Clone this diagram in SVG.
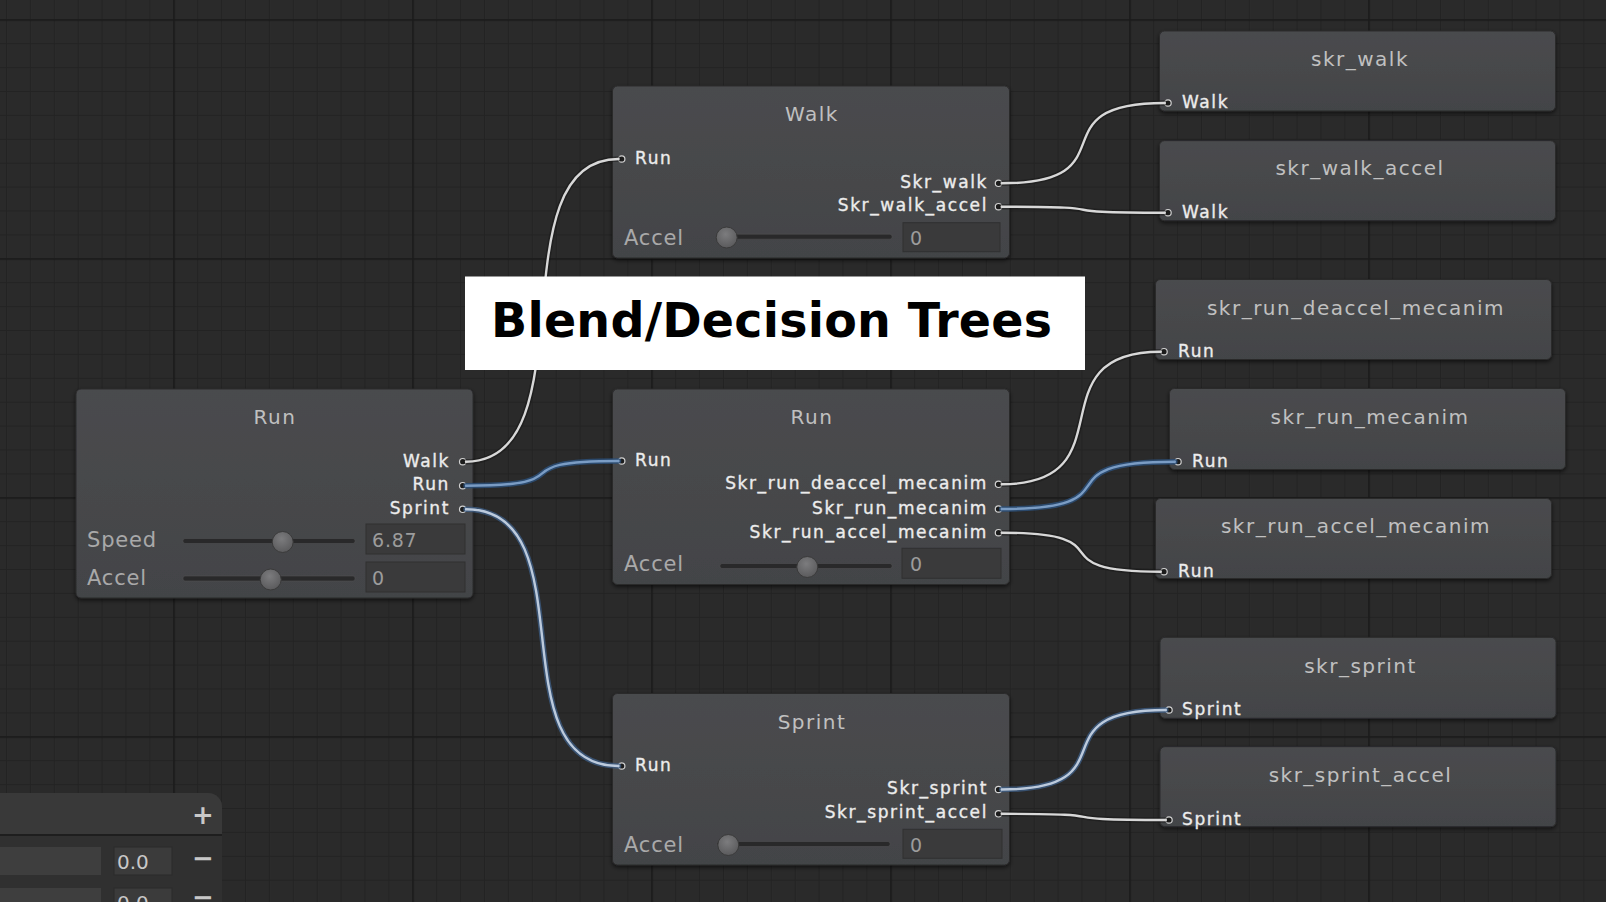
<svg xmlns="http://www.w3.org/2000/svg" width="1606" height="902" viewBox="0 0 1606 902">
<defs>
  <pattern id="gMinor" width="23.9" height="23.9" patternUnits="userSpaceOnUse" x="6" y="19.3">
    <path d="M0,0.5 H23.9 M0.5,0 V23.9" stroke="#232323" stroke-width="1" fill="none"/>
  </pattern>
  <pattern id="gMajor" width="239" height="239" patternUnits="userSpaceOnUse" x="173.3" y="19.3">
    <path d="M0,0.75 H239 M0.75,0 V239" stroke="#1a1a1a" stroke-width="1.5" fill="none"/>
  </pattern>
  <linearGradient id="nodeFill" x1="0" y1="0" x2="0" y2="1">
    <stop offset="0" stop-color="#4a4b4e"/>
    <stop offset="1" stop-color="#434447"/>
  </linearGradient>
  <radialGradient id="knobFill" cx="0.45" cy="0.35" r="0.7">
    <stop offset="0" stop-color="#7c7c7e"/>
    <stop offset="1" stop-color="#58585a"/>
  </radialGradient>
  <filter id="shadow" x="-5%" y="-10%" width="110%" height="125%">
    <feDropShadow dx="0" dy="2" stdDeviation="2" flood-color="#000" flood-opacity="0.6"/>
  </filter>
  <style>
    .node{fill:url(#nodeFill);stroke:#2b2b2c;stroke-width:1;filter:url(#shadow)}
    .title{font-family:"DejaVu Sans",sans-serif;font-size:20px;letter-spacing:1.5px;fill:#c0c0c0;text-anchor:middle}
    .port{font-family:"DejaVu Sans",sans-serif;font-size:17px;letter-spacing:1.6px;fill:#ececec;stroke:#ececec;stroke-width:0.35px}
    .out{text-anchor:end}
    .pin{fill:#1c1c1c;stroke:#d2d2d2;stroke-width:1.2}
    .lbl{font-family:"DejaVu Sans",sans-serif;font-size:21px;letter-spacing:0.8px;fill:#a9a9a9}
    .val{font-family:"DejaVu Sans",sans-serif;font-size:19px;letter-spacing:0.8px;fill:#9c9c9c}
    .field{fill:#3a3a3b;stroke:#303031;stroke-width:1}
    .track{fill:#29292a;stroke:#505052;stroke-width:0.6}
    .knob{fill:url(#knobFill);stroke:#3a3a3a;stroke-width:1}
    .halo{fill:none;stroke-width:5.5;stroke-linecap:round}
    .core{fill:none;stroke-width:2.4;stroke-linecap:round}
    .white .halo{stroke:#151515;stroke-opacity:0.5}
    .white .core{stroke:#d8d8d8}
    .blue .halo{stroke:#2c4f78;stroke-opacity:0.85}
    .blue .core{stroke:#7a9cc4}
    .pale .halo{stroke:#3d5f88;stroke-opacity:0.75}
    .pale .core{stroke:#bccadc}
    .pnl{font-family:"DejaVu Sans",sans-serif;fill:#c8c8c8}
  </style>
</defs>

<!-- background grid -->
<rect x="0" y="0" width="1606" height="902" fill="#2a2a2a"/>
<rect x="0" y="0" width="1606" height="902" fill="url(#gMinor)"/>
<rect x="0" y="0" width="1606" height="902" fill="url(#gMajor)"/>

<!-- bottom-left panel -->
<g id="panel">
  <path d="M0,793 H208 A14,14 0 0 1 222,807 V902 H0 Z" fill="#303030"/>
  <path d="M0,793 H208 A14,14 0 0 1 222,807 V835 H0 Z" fill="#393939"/>
  <rect x="0" y="834" width="222" height="2" fill="#1e1e1e"/>
  <rect x="0" y="847" width="101" height="28" fill="#3e3e3e"/>
  <rect x="114" y="847" width="58" height="28" fill="#3b3b3b" stroke="#2b2b2b"/>
  <text class="pnl" x="117" y="869" font-size="20">0.0</text>
  <rect x="0" y="888" width="101" height="28" fill="#3e3e3e"/>
  <rect x="114" y="888" width="58" height="28" fill="#3b3b3b" stroke="#2b2b2b"/>
  <text class="pnl" x="117" y="910" font-size="20">0.0</text>
  <text class="pnl" x="203" y="824" font-size="26" font-weight="bold" text-anchor="middle">+</text>
  <text class="pnl" x="203" y="867" font-size="26" font-weight="bold" text-anchor="middle">−</text>
  <text class="pnl" x="203" y="906" font-size="26" font-weight="bold" text-anchor="middle">−</text>
</g>

<!-- nodes -->
<g id="node-run-root">
  <rect class="node" x="76" y="389" width="397" height="209" rx="5"/>
  <text class="title" x="275" y="424">Run</text>
  <text class="port out" x="450" y="466.5">Walk</text>
  <text class="port out" x="450" y="490">Run</text>
  <text class="port out" x="450" y="513.5">Sprint</text>
  <circle class="pin" cx="462.7" cy="461.7" r="3.2"/>
  <circle class="pin" cx="462.7" cy="485.7" r="3.2"/>
  <circle class="pin" cx="462.7" cy="509.3" r="3.2"/>
  <text class="lbl" x="87" y="547">Speed</text>
  <rect class="track" x="183" y="538.5" width="172" height="5" rx="2"/>
  <circle class="knob" cx="282.7" cy="542" r="10.5"/>
  <rect class="field" x="366" y="524" width="99" height="30"/>
  <text class="val" x="372" y="547">6.87</text>
  <text class="lbl" x="87" y="584.5">Accel</text>
  <rect class="track" x="183" y="576" width="172" height="5" rx="2"/>
  <circle class="knob" cx="270.7" cy="579.5" r="10.5"/>
  <rect class="field" x="366" y="562" width="99" height="30"/>
  <text class="val" x="372" y="584.5">0</text>
</g>

<g id="node-walk">
  <rect class="node" x="612.5" y="86" width="397" height="172" rx="5"/>
  <text class="title" x="812" y="121">Walk</text>
  <circle class="pin" cx="621.7" cy="159" r="3.2"/>
  <text class="port" x="635" y="164">Run</text>
  <text class="port out" x="988" y="187.8">Skr_walk</text>
  <text class="port out" x="988" y="211">Skr_walk_accel</text>
  <circle class="pin" cx="998.5" cy="183.3" r="3.2"/>
  <circle class="pin" cx="998.5" cy="206.7" r="3.2"/>
  <text class="lbl" x="624" y="245">Accel</text>
  <rect class="track" x="723" y="234.2" width="169" height="5" rx="2"/>
  <circle class="knob" cx="726.7" cy="237.5" r="10.5"/>
  <rect class="field" x="903" y="222.7" width="97" height="29"/>
  <text class="val" x="910" y="245">0</text>
</g>

<g id="node-run">
  <rect class="node" x="612.5" y="389" width="397" height="195.5" rx="5"/>
  <text class="title" x="812" y="423.5">Run</text>
  <circle class="pin" cx="621.7" cy="461" r="3.2"/>
  <text class="port" x="635" y="466">Run</text>
  <text class="port out" x="988" y="489.3">Skr_run_deaccel_mecanim</text>
  <text class="port out" x="988" y="513.5">Skr_run_mecanim</text>
  <text class="port out" x="988" y="537.5">Skr_run_accel_mecanim</text>
  <circle class="pin" cx="998.5" cy="484.3" r="3.2"/>
  <circle class="pin" cx="998.5" cy="509" r="3.2"/>
  <circle class="pin" cx="998.5" cy="532.7" r="3.2"/>
  <text class="lbl" x="624" y="570.7">Accel</text>
  <rect class="track" x="720" y="563.5" width="172" height="5" rx="2"/>
  <circle class="knob" cx="807.3" cy="567" r="10.5"/>
  <rect class="field" x="902" y="548.3" width="99" height="30"/>
  <text class="val" x="910" y="571">0</text>
</g>

<g id="node-sprint">
  <rect class="node" x="612.5" y="693.5" width="397" height="171.5" rx="5"/>
  <text class="title" x="812" y="728.5">Sprint</text>
  <circle class="pin" cx="621.7" cy="766" r="3.2"/>
  <text class="port" x="635" y="771">Run</text>
  <text class="port out" x="988" y="794.3">Skr_sprint</text>
  <text class="port out" x="988" y="818.3">Skr_sprint_accel</text>
  <circle class="pin" cx="998.5" cy="789.5" r="3.2"/>
  <circle class="pin" cx="998.5" cy="813.8" r="3.2"/>
  <text class="lbl" x="624" y="851.7">Accel</text>
  <rect class="track" x="717" y="841.5" width="173" height="5" rx="2"/>
  <circle class="knob" cx="728.3" cy="845" r="10.5"/>
  <rect class="field" x="903" y="829.3" width="99" height="29"/>
  <text class="val" x="910" y="852">0</text>
</g>

<g id="node-skr-walk">
  <rect class="node" x="1159.5" y="31" width="396" height="80" rx="5"/>
  <text class="title" x="1360" y="65.5">skr_walk</text>
  <circle class="pin" cx="1168" cy="103" r="3.2"/>
  <text class="port" x="1182" y="108.3">Walk</text>
</g>
<g id="node-skr-walk-accel">
  <rect class="node" x="1159.5" y="140.7" width="396" height="80" rx="5"/>
  <text class="title" x="1360" y="175">skr_walk_accel</text>
  <circle class="pin" cx="1168" cy="212.7" r="3.2"/>
  <text class="port" x="1182" y="217.5">Walk</text>
</g>
<g id="node-skr-run-deaccel">
  <rect class="node" x="1155.5" y="279.5" width="396" height="80" rx="5"/>
  <text class="title" x="1356" y="314.5">skr_run_deaccel_mecanim</text>
  <circle class="pin" cx="1164" cy="351.7" r="3.2"/>
  <text class="port" x="1178" y="356.7">Run</text>
</g>
<g id="node-skr-run">
  <rect class="node" x="1169.5" y="388.5" width="396" height="81" rx="5"/>
  <text class="title" x="1370" y="423.8">skr_run_mecanim</text>
  <circle class="pin" cx="1178" cy="461.7" r="3.2"/>
  <text class="port" x="1192" y="466.5">Run</text>
</g>
<g id="node-skr-run-accel">
  <rect class="node" x="1155.5" y="498.5" width="396" height="80" rx="5"/>
  <text class="title" x="1356" y="532.8">skr_run_accel_mecanim</text>
  <circle class="pin" cx="1164" cy="571.7" r="3.2"/>
  <text class="port" x="1178" y="576.5">Run</text>
</g>
<g id="node-skr-sprint">
  <rect class="node" x="1160" y="637.3" width="396" height="81" rx="5"/>
  <text class="title" x="1360.5" y="672.5">skr_sprint</text>
  <circle class="pin" cx="1169" cy="710" r="3.2"/>
  <text class="port" x="1182" y="715">Sprint</text>
</g>
<g id="node-skr-sprint-accel">
  <rect class="node" x="1160" y="746.7" width="396" height="80" rx="5"/>
  <text class="title" x="1360.5" y="782">skr_sprint_accel</text>
  <circle class="pin" cx="1169" cy="820" r="3.2"/>
  <text class="port" x="1182" y="824.5">Sprint</text>
</g>

<!-- connectors -->
<g id="connectors">
  <g class="white"><path class="halo" d="M466,461.7 C589.9,461.7 494.5,159 618.5,159"/><path class="core" d="M466,461.7 C589.9,461.7 494.5,159 618.5,159"/></g>
  <g class="blue"><path class="halo" d="M466,485.7 C589.9,485.7 494.5,461 618.5,461"/><path class="core" d="M466,485.7 C589.9,485.7 494.5,461 618.5,461"/></g>
  <g class="pale"><path class="halo" d="M466,509.3 C589.9,509.3 494.5,766 618.5,766"/><path class="core" d="M466,509.3 C589.9,509.3 494.5,766 618.5,766"/></g>
  <g class="white"><path class="halo" d="M1001.7,183.3 C1134.1,183.3 1032.4,103 1164.8,103"/><path class="core" d="M1001.7,183.3 C1134.1,183.3 1032.4,103 1164.8,103"/></g>
  <g class="white"><path class="halo" d="M1001.7,206.7 C1134.1,206.7 1032.4,212.7 1164.8,212.7"/><path class="core" d="M1001.7,206.7 C1134.1,206.7 1032.4,212.7 1164.8,212.7"/></g>
  <g class="white"><path class="halo" d="M1001.7,484.3 C1130.9,484.3 1031.6,351.7 1160.8,351.7"/><path class="core" d="M1001.7,484.3 C1130.9,484.3 1031.6,351.7 1160.8,351.7"/></g>
  <g class="blue"><path class="halo" d="M1001.7,509 C1142.1,509 1034.4,461.7 1174.8,461.7"/><path class="core" d="M1001.7,509 C1142.1,509 1034.4,461.7 1174.8,461.7"/></g>
  <g class="white"><path class="halo" d="M1001.7,532.7 C1130.9,532.7 1031.6,571.7 1160.8,571.7"/><path class="core" d="M1001.7,532.7 C1130.9,532.7 1031.6,571.7 1160.8,571.7"/></g>
  <g class="pale"><path class="halo" d="M1001.7,789.5 C1134.9,789.5 1032.6,710 1165.8,710"/><path class="core" d="M1001.7,789.5 C1134.9,789.5 1032.6,710 1165.8,710"/></g>
  <g class="white"><path class="halo" d="M1001.7,813.8 C1134.9,813.8 1032.6,820 1165.8,820"/><path class="core" d="M1001.7,813.8 C1134.9,813.8 1032.6,820 1165.8,820"/></g>
</g>

<!-- title banner -->
<g id="banner">
  <rect x="465" y="276.5" width="620" height="93.5" fill="#ffffff"/>
  <text x="491" y="337.3" font-family="DejaVu Sans, sans-serif" font-weight="bold" font-size="47.5" fill="#000000" textLength="561" lengthAdjust="spacing">Blend/Decision Trees</text>
</g>
</svg>
